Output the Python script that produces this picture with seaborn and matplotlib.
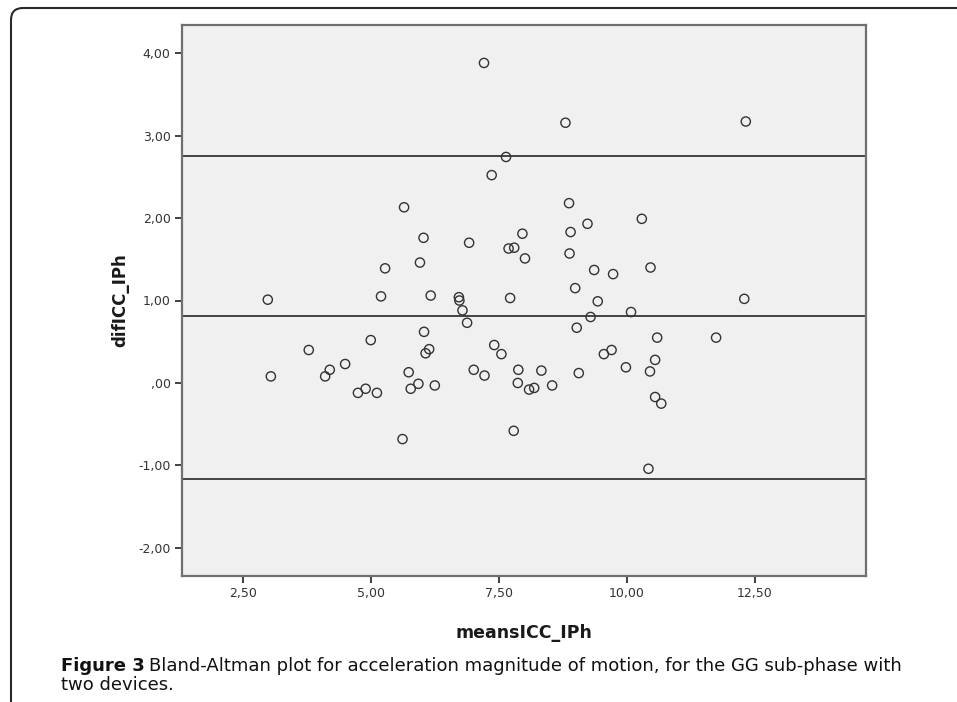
import matplotlib
matplotlib.use("Agg")
import matplotlib.pyplot as plt
import seaborn as sns
import pandas as pd
from matplotlib.patches import FancyBboxPatch
from matplotlib.transforms import IdentityTransform

# ---- data ----
means_icc = [5.65, 6.03, 5.96, 5.28, 5.20, 6.17, 2.99, 6.04, 5.00, 6.14,
             6.07, 3.79, 4.50, 4.20, 4.11, 3.05, 5.74, 4.90, 4.75, 5.12,
             5.78, 5.93, 6.25, 5.62, 7.21, 8.80, 7.64, 7.36, 8.87, 9.23,
             10.29, 8.90, 6.92, 7.96, 7.69, 7.80, 8.01, 8.88, 9.36, 9.73,
             10.46, 6.72, 6.73, 7.72, 8.99, 9.43, 10.08, 6.79, 9.29, 6.88,
             9.02, 10.59, 7.41, 7.55, 9.70, 9.55, 10.55, 9.98, 10.45, 7.01,
             7.22, 7.88, 8.33, 9.06, 7.87, 8.09, 8.19, 8.54, 10.55, 10.67,
             7.79, 12.32, 12.29, 11.74, 10.42]
dif_icc = [2.13, 1.76, 1.46, 1.39, 1.05, 1.06, 1.01, 0.62, 0.52, 0.41,
           0.36, 0.40, 0.23, 0.16, 0.08, 0.08, 0.13, -0.07, -0.12, -0.12,
           -0.07, -0.01, -0.03, -0.68, 3.88, 3.155, 2.74, 2.52, 2.18, 1.93,
           1.99, 1.83, 1.70, 1.81, 1.63, 1.64, 1.51, 1.57, 1.37, 1.32,
           1.40, 1.04, 1.00, 1.03, 1.15, 0.99, 0.86, 0.88, 0.80, 0.73,
           0.67, 0.55, 0.46, 0.35, 0.40, 0.35, 0.28, 0.19, 0.14, 0.16,
           0.09, 0.16, 0.15, 0.12, 0.00, -0.08, -0.06, -0.03, -0.17, -0.25,
           -0.58, 3.17, 1.02, 0.55, -1.04]
ref_lines = [2.75, 0.815, -1.16]          # upper LoA, mean difference, lower LoA
x_ticks = [2.5, 5.0, 7.5, 10.0, 12.5]
x_tick_labels = ["2,50", "5,00", "7,50", "10,00", "12,50"]
y_ticks = [-2, -1, 0, 1, 2, 3, 4]
y_tick_labels = ["-2,00", "-1,00", ",00", "1,00", "2,00", "3,00", "4,00"]
x_label = "meansICC_IPh"
y_label = "difICC_IPh"
caption_bold = "Figure 3"
caption_line1 = "Bland-Altman plot for acceleration magnitude of motion, for the GG sub-phase with"
caption_line2 = "two devices."

df = pd.DataFrame({x_label: means_icc, y_label: dif_icc})

sns.set_theme(style="white")
plt.rcParams["font.family"] = ["DejaVu Sans"]

W, H = 957, 702
fig = plt.figure(figsize=(W / 100, H / 100), dpi=100)
fig.patch.set_facecolor("white")

# axes box in pixels
L, R, T, B = 181.7, 865.7, 25.0, 576.0
ax = fig.add_axes([L / W, 1 - B / H, (R - L) / W, (B - T) / H])
ax.set_facecolor("#F0F0F0")

for v in ref_lines:
    ax.axhline(v, color="#262626", lw=1.2, zorder=1)

sns.scatterplot(data=df, x=x_label, y=y_label, ax=ax, marker="o", s=44,
                facecolor="none", edgecolor="#333333", linewidth=1.0, zorder=3)

ax.set_xlim(1.31, 14.66)
ax.set_ylim(-2.34, 4.34)
ax.set_xticks(x_ticks)
ax.set_xticklabels(x_tick_labels)
ax.set_yticks(y_ticks)
ax.set_yticklabels(y_tick_labels)
ax.tick_params(axis="both", direction="out", length=5, width=1.3, color="#333333",
               labelsize=9, labelcolor="#333333", pad=3, bottom=True, left=True,
               top=False, right=False)
for sp in ax.spines.values():
    sp.set_visible(True)
    sp.set_color("#707070")
    sp.set_linewidth(1.6)

ax.set_xlabel(x_label, fontsize=12.5, fontweight="bold", color="#1a1a1a")
ax.set_ylabel(y_label, fontsize=12, fontweight="bold", color="#1a1a1a")
ax.xaxis.set_label_coords(0.5, (B - 633) / (B - T))
ax.xaxis.label.set_va("center")
ax.yaxis.set_label_coords((120 - L) / (R - L), 0.5)
ax.yaxis.label.set_va("center")
ax.yaxis.label.set_ha("center")

# outer rounded frame (top-left corner visible, runs off right/bottom)
frame = FancyBboxPatch((11, -30), 1100, (H - 8) + 30,
                       boxstyle="round,pad=0,rounding_size=12",
                       transform=IdentityTransform(), fill=False,
                       edgecolor="#2a2a2a", linewidth=1.5)
fig.add_artist(frame)

# caption, fitted to span 61 -> 904 px on the first line
cap_left, cap_right = 61.0, 904.0
cap_fs = 12.5
renderer = fig.canvas.get_renderer()
for _ in range(2):
    tb = fig.text(0, 0, caption_bold, fontsize=cap_fs, fontweight="bold")
    tr = fig.text(0, 0, " " + caption_line1, fontsize=cap_fs)
    wtot = tb.get_window_extent(renderer).width + tr.get_window_extent(renderer).width
    tb.remove(); tr.remove()
    cap_fs *= (cap_right - cap_left) / wtot

t_bold = fig.text(cap_left / W, 1 - 666 / H, caption_bold, fontsize=cap_fs, fontweight="bold",
                  va="center", ha="left", color="#111111")
bb = t_bold.get_window_extent(renderer)
fig.text((bb.x1 + 0.3 * cap_fs) / W, 1 - 666 / H, caption_line1, fontsize=cap_fs,
         va="center", ha="left", color="#111111")
fig.text(cap_left / W, 1 - 685 / H, caption_line2, fontsize=cap_fs,
         va="center", ha="left", color="#111111")

fig.savefig("out.png", dpi=100)
